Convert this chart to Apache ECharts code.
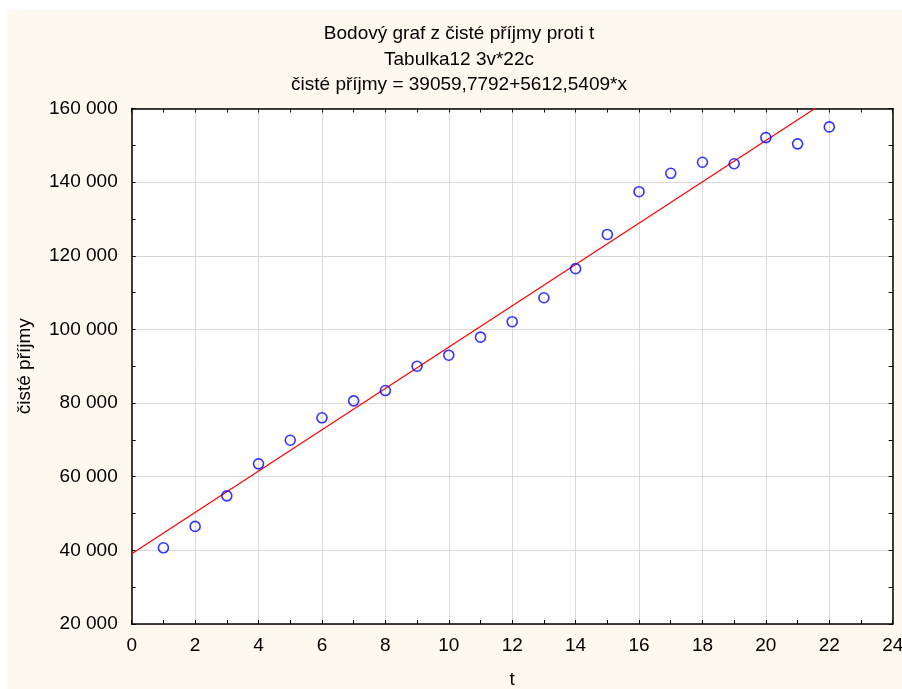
<!DOCTYPE html>
<html>
<head>
<meta charset="utf-8">
<script src="https://cdn.jsdelivr.net/npm/echarts@6/dist/echarts.min.js"></script>
<style>
html,body{margin:0;padding:0;background:#ffffff;}
#bg{position:absolute;left:7px;top:10px;width:895px;height:679px;background:#fdf9ee;}
#chart{position:absolute;left:0;top:0;width:902px;height:689px;}
</style>
</head>
<body>
<div id="bg"></div>
<div id="chart"></div>
<script>
// Data
const tValues = [1,2,3,4,5,6,7,8,9,10,11,12,13,14,15,16,17,18,19,20,21,22];
const incomeValues = [40700,46500,54800,63500,69900,76000,80600,83400,90000,93000,97900,102100,
                      108600,116500,125800,137400,142400,145400,145000,152100,150400,155000];
// Regression line from the title: čisté příjmy = 39059,7792 + 5612,5409*x
const fitCoef = [39059.7792, 5612.5409];
const fitRangeX = [0, 24];
const titleLines = ['Bodový graf z čisté příjmy proti t', 'Tabulka12 3v*22c', 'čisté příjmy = 39059,7792+5612,5409*x'];
const xAxisName = 't';
const yAxisName = 'čisté příjmy';

const FONT = '"Liberation Sans", Arial, sans-serif';
const fmt = v => String(v).replace(/\B(?=(\d{3})+(?!\d))/g, ' ');

const scatterData = tValues.map((t, i) => [t, incomeValues[i]]);
const fitData = fitRangeX.map(x => [x, fitCoef[0] + fitCoef[1] * x]);

const titleTops = [24.5, 50, 75.5];
const tickStyle = {show: true, inside: true, length: 4, lineStyle: {color: '#000', width: 1}};
const minorStyle = {show: true, splitNumber: 2, length: 4, lineStyle: {color: '#000', width: 1}};
const lineStyleAxis = {show: true, onZero: false, lineStyle: {color: '#000', width: 1.5}};

const chart = echarts.init(document.getElementById('chart'), null, {renderer: 'canvas'});
chart.setOption({
  backgroundColor: 'transparent',
  animation: false,
  title: titleLines.map((txt, i) => ({
    text: txt, left: 459, top: titleTops[i], textAlign: 'center', padding: 0,
    textStyle: {fontFamily: FONT, fontSize: 19, fontWeight: 'normal', color: '#000', lineHeight: 19}
  })),
  grid: {left: 131.7, right: 9.3, top: 108.5, bottom: 65, show: true, backgroundColor: '#ffffff',
         borderWidth: 0, containLabel: false, outerBoundsMode: 'none'},
  xAxis: [{
    type: 'value', min: 0, max: 24, interval: 2, position: 'bottom',
    name: xAxisName, nameLocation: 'middle', nameGap: 46,
    nameTextStyle: {fontFamily: FONT, fontSize: 19, color: '#000'},
    axisLine: lineStyleAxis, axisTick: tickStyle, minorTick: minorStyle,
    axisLabel: {fontFamily: FONT, fontSize: 19, color: '#000', margin: 12},
    splitLine: {show: true, lineStyle: {color: '#d9d9d9', width: 1}}
  }, {
    type: 'value', min: 0, max: 24, interval: 2, position: 'top',
    axisLine: lineStyleAxis, axisTick: tickStyle, minorTick: minorStyle,
    axisLabel: {show: false}, splitLine: {show: false}
  }],
  yAxis: [{
    type: 'value', min: 20000, max: 160000, interval: 20000, position: 'left',
    name: yAxisName, nameLocation: 'middle', nameGap: 97, nameRotate: 90,
    nameTextStyle: {fontFamily: FONT, fontSize: 19, color: '#000'},
    axisLine: lineStyleAxis, axisTick: tickStyle, minorTick: minorStyle,
    axisLabel: {fontFamily: FONT, fontSize: 19, color: '#000', margin: 14, formatter: fmt},
    splitLine: {show: true, lineStyle: {color: '#d9d9d9', width: 1}}
  }, {
    type: 'value', min: 20000, max: 160000, interval: 20000, position: 'right',
    axisLine: lineStyleAxis, axisTick: tickStyle, minorTick: minorStyle,
    axisLabel: {show: false}, splitLine: {show: false}
  }],
  series: [{
    type: 'line', data: fitData, xAxisIndex: 0, yAxisIndex: 0,
    symbol: 'none', clip: true,
    lineStyle: {color: '#ff0000', width: 1.2}, z: 2
  }, {
    type: 'scatter', data: scatterData, xAxisIndex: 0, yAxisIndex: 0,
    symbol: 'circle', symbolSize: 10,
    itemStyle: {color: 'rgba(255,255,255,0)', borderColor: '#0000ff', borderWidth: 1.6}, z: 3
  }]
});
</script>
</body>
</html>
